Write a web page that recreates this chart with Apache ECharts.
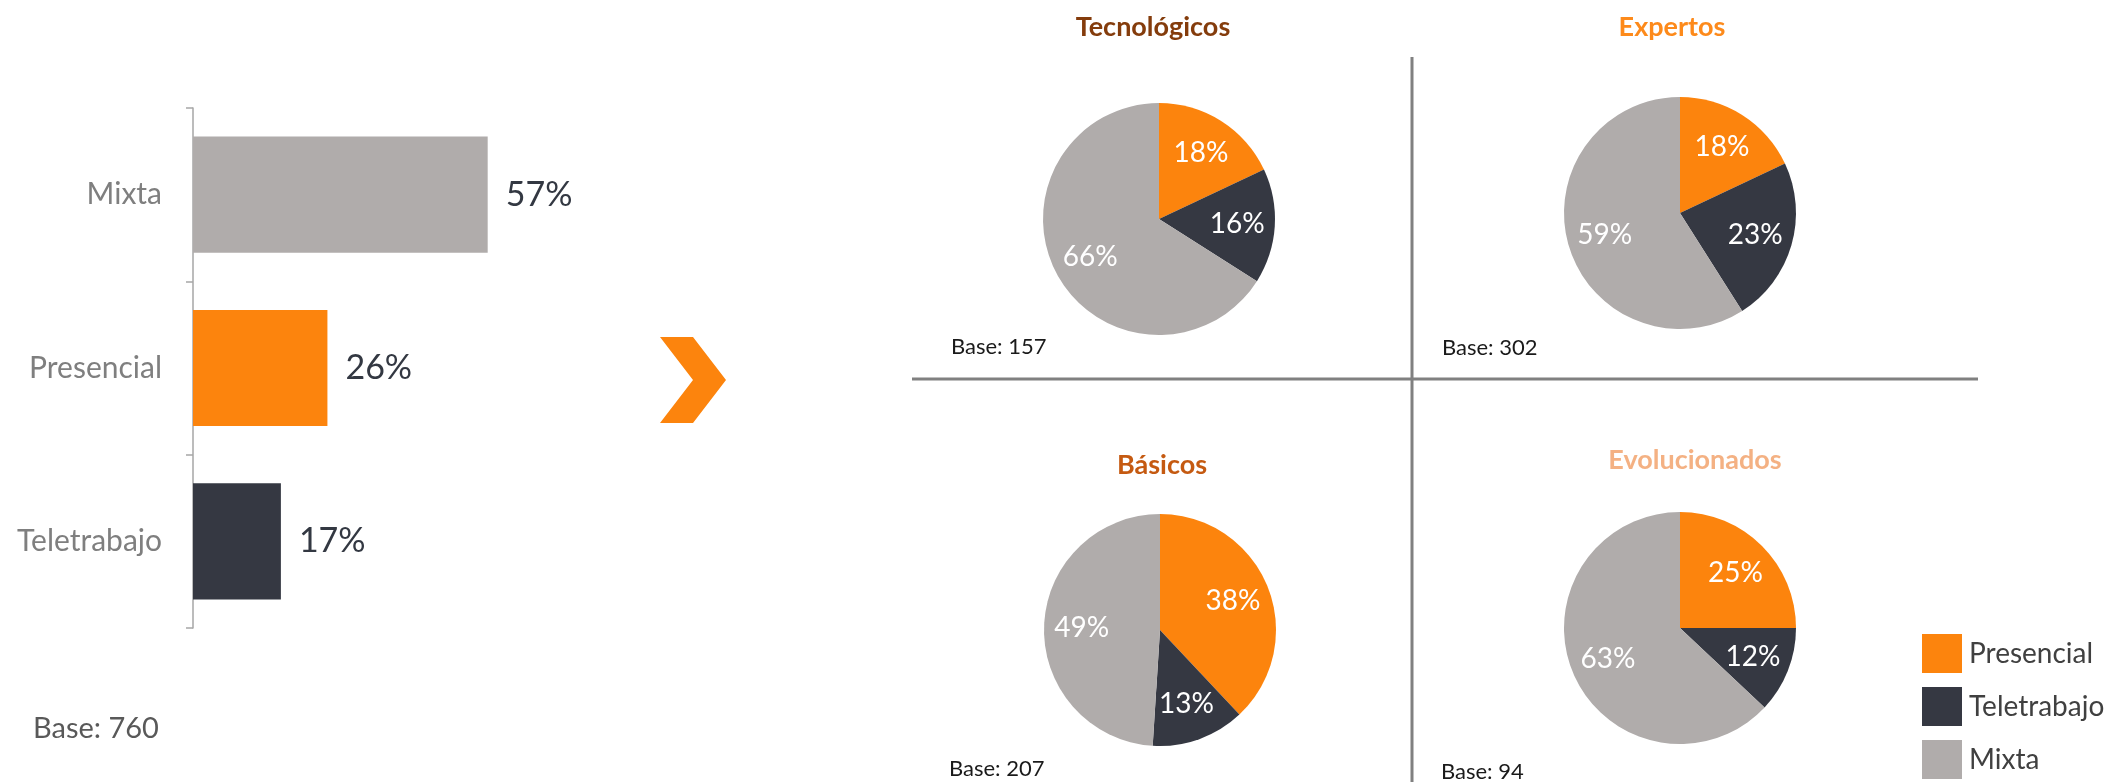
<!DOCTYPE html>
<html>
<head>
<meta charset="utf-8">
<script src="https://cdn.jsdelivr.net/npm/echarts@6/dist/echarts.min.js"></script>
<style>
  html, body { margin: 0; padding: 0; background: #fff; }
  #chart { width: 2113px; height: 782px; }
</style>
</head>
<body>
<div id="chart"></div>
<script>
// total (left bar chart)
const categories = ['Mixta', 'Presencial', 'Teletrabajo']
const totalValues = [57, 26, 17]
const totalBase = 760

// pie slices are drawn in this order, clockwise from 12 o'clock
const sliceNames = ['Presencial', 'Teletrabajo', 'Mixta']
const segments = ['Tecnológicos', 'Expertos', 'Básicos', 'Evolucionados']
const tecnologicos = [18, 16, 66]
const expertos = [18, 23, 59]
const basicos = [38, 13, 49]
const evolucionados = [25, 12, 63]
const bases = [157, 302, 207, 94]

const colors = { Presencial: '#fc840d', Teletrabajo: '#353842', Mixta: '#b0acab' }
const titleColors = ['#843c0c', '#fd8a1b', '#c55a11', '#f4b183']
const pieCenters = [[1159, 219], [1680, 213], [1160, 630], [1680, 628]]
const basePos = [[951, 347], [1442, 348], [949, 769], [1441, 772]]
const titlePos = [[1153, 27], [1672, 27], [1162, 465], [1695, 460]]
const R = 116
const FONT = 'Lato, "Open Sans", sans-serif'

const pieSeries = []
const pieValues = [tecnologicos, expertos, basicos, evolucionados]
pieValues.forEach((vals, i) => {
  const data = vals.map((v, k) => ({ name: sliceNames[k], value: v, itemStyle: { color: colors[sliceNames[k]] } }))
  pieSeries.push({
    type: 'pie',
    center: pieCenters[i],
    radius: [0, R],
    startAngle: 90,
    silent: true,
    label: { show: false },
    labelLine: { show: false },
    data: data,
  })
})
// label layer: a wider transparent ring so the 'inside' labels sit further out
pieValues.forEach((vals, i) => {
  pieSeries.push({
    type: 'pie',
    center: pieCenters[i],
    radius: [0, R * 1.3],
    startAngle: 90,
    silent: true,
    itemStyle: { color: 'transparent' },
    label: {
      show: true,
      position: 'inside',
      formatter: '{c}%',
      color: '#fff',
      fontSize: 28,
      fontFamily: FONT,
    },
    labelLine: { show: false },
    data: vals.map((v, k) => ({ name: sliceNames[k], value: v })),
  })
})

const graphics = []
// divider lines
graphics.push({ type: 'line', shape: { x1: 1412, y1: 57, x2: 1412, y2: 782 }, style: { stroke: '#808080', lineWidth: 3 } })
graphics.push({ type: 'line', shape: { x1: 912, y1: 379, x2: 1978, y2: 379 }, style: { stroke: '#808080', lineWidth: 3 } })
// chevron
graphics.push({
  type: 'polygon',
  shape: { points: [[660, 337], [693, 337], [726, 380], [693, 423], [660, 423], [693, 380]] },
  style: { fill: colors.Presencial },
})
segments.forEach((s, i) => {
  graphics.push({
    type: 'text', x: titlePos[i][0], y: titlePos[i][1],
    style: { text: s, fill: titleColors[i], font: 'bold 27px ' + FONT, textAlign: 'center', textVerticalAlign: 'middle' },
  })
  graphics.push({
    type: 'text', x: basePos[i][0], y: basePos[i][1],
    style: { text: 'Base: ' + bases[i], fill: '#1a1a1a', font: '22px ' + FONT, textAlign: 'left', textVerticalAlign: 'middle' },
  })
})
graphics.push({
  type: 'text', x: 33, y: 729,
  style: { text: 'Base: ' + totalBase, fill: '#595959', font: '29px ' + FONT, textAlign: 'left', textVerticalAlign: 'middle' },
})

const chart = echarts.init(document.getElementById('chart'))
chart.setOption({
  animation: false,
  textStyle: { fontFamily: FONT },
  grid: { left: 193, top: 108, width: 517, height: 520, containLabel: false },
  xAxis: { type: 'value', min: 0, max: 100, show: false },
  yAxis: {
    type: 'category',
    inverse: true,
    data: categories,
    axisLine: { show: true, lineStyle: { color: '#a6a6a6', width: 1.5 } },
    axisTick: { show: true, length: 7, lineStyle: { color: '#a6a6a6', width: 1.5 } },
    axisLabel: { color: '#7f7f7f', fontSize: 30, margin: 31, fontFamily: FONT },
  },
  legend: {
    orient: 'vertical',
    left: 1922,
    top: 634,
    padding: 0,
    itemWidth: 40,
    itemHeight: 39,
    itemGap: 14,
    icon: 'rect',
    selectedMode: false,
    textStyle: { color: '#404040', fontSize: 28, fontFamily: FONT, padding: [0, 0, 0, 2] },
    data: sliceNames.map(n => ({ name: n, itemStyle: { color: colors[n] } })),
  },
  graphic: graphics,
  series: [
    {
      type: 'bar',
      barCategoryGap: '33%',
      silent: true,
      data: totalValues.map((v, k) => ({ value: v, itemStyle: { color: colors[categories[k]] } })),
      label: {
        show: true,
        position: 'right',
        distance: 18,
        formatter: '{c}%',
        color: '#333842',
        fontSize: 34,
        fontFamily: FONT,
      },
    },
    ...pieSeries,
  ],
})
</script>
</body>
</html>
